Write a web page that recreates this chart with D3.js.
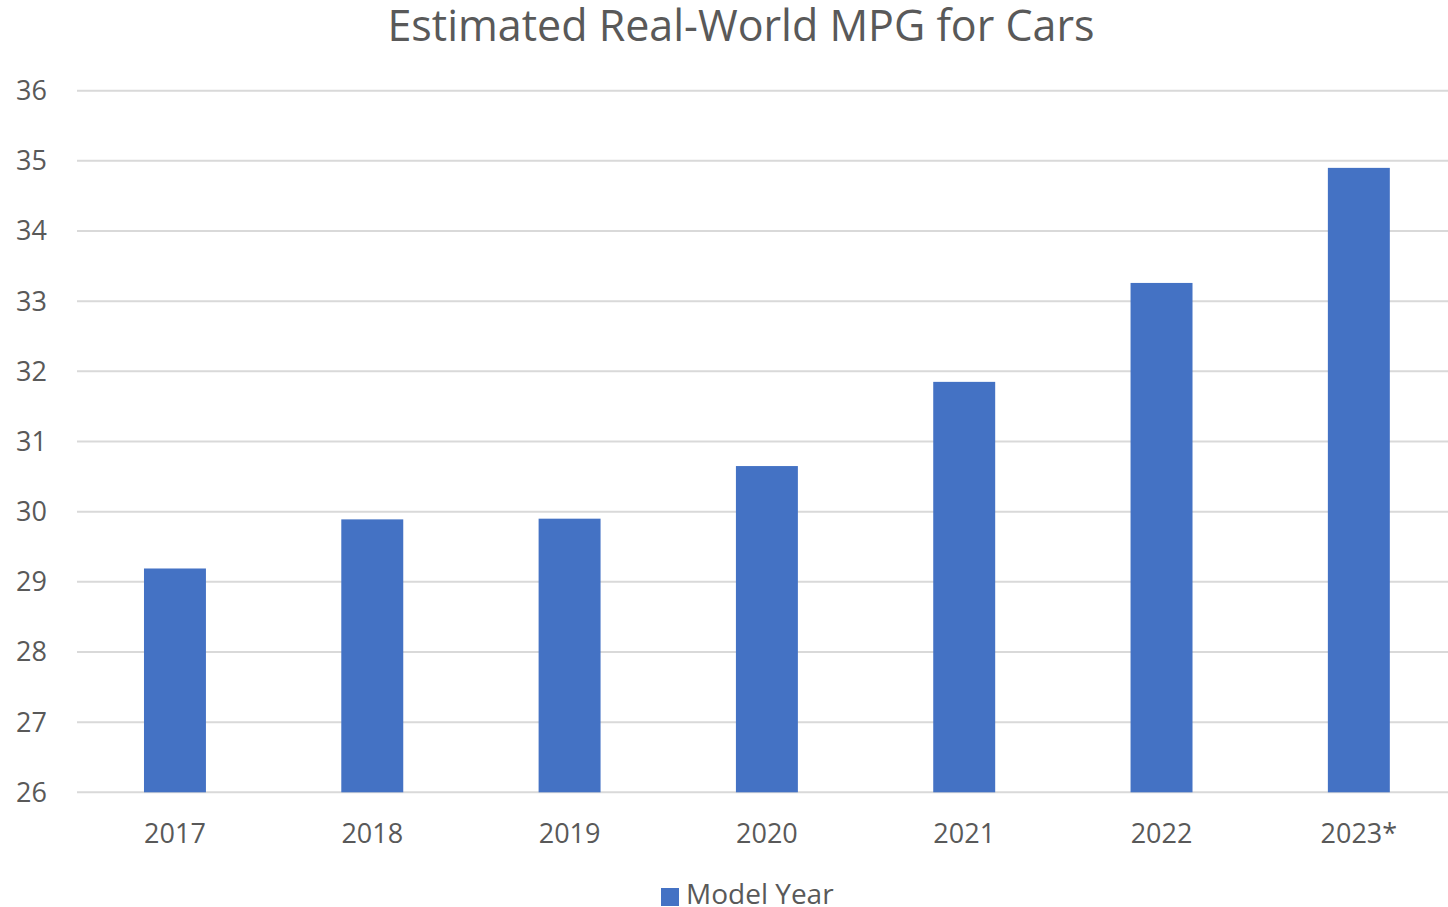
<head>
    <script src="https://d3js.org/d3.v7.min.js"></script>
</head>
<body style="margin:0">
<script>
    let years = ["2017", "2018", "2019", "2020", "2021", "2022", "2023*"];
    let mpg = [29.19, 29.89, 29.9, 30.65, 31.85, 33.26, 34.9];
    let yTicks = [26, 27, 28, 29, 30, 31, 32, 33, 34, 35, 36];

    let width = 1448;
    let height = 907;
    let font = "'Open Sans', 'Noto Sans', sans-serif";
    let textColor = "#595959";

    let svg = d3.select("body").append("svg")
        .attr("width", width)
        .attr("height", height)
        .style("font-family", font);

    let x = d3.scaleBand()
        .domain(years)
        .range([76.3, 1457.5])
        .paddingInner(0.686)
        .paddingOuter(0.343);

    let y = d3.scaleLinear()
        .domain([26, 36])
        .range([792.3, 90.7]);

    // gridlines
    svg.selectAll(".grid")
        .data(yTicks)
        .join("line")
        .attr("class", "grid")
        .attr("x1", 77)
        .attr("x2", width)
        .attr("y1", d => y(d))
        .attr("y2", d => y(d))
        .attr("stroke", "#d9d9d9")
        .attr("stroke-width", 2);

    // y tick labels
    svg.selectAll(".ylabel")
        .data(yTicks)
        .join("text")
        .attr("class", "ylabel")
        .attr("x", 47)
        .attr("y", d => y(d))
        .attr("dy", "0.35em")
        .attr("text-anchor", "end")
        .attr("fill", textColor)
        .style("font-size", "27px")
        .text(d => d);

    // bars
    svg.selectAll(".bar")
        .data(mpg)
        .join("rect")
        .attr("class", "bar")
        .attr("x", (d, i) => x(years[i]))
        .attr("width", x.bandwidth())
        .attr("y", d => y(d))
        .attr("height", d => y(26) - y(d))
        .attr("fill", "#4472c4");

    // x labels
    svg.selectAll(".xlabel")
        .data(years)
        .join("text")
        .attr("class", "xlabel")
        .attr("x", d => x(d) + x.bandwidth() / 2)
        .attr("y", 834)
        .attr("dy", "0.35em")
        .attr("text-anchor", "middle")
        .attr("fill", textColor)
        .style("font-size", "27px")
        .text(d => d);

    // title
    svg.append("text")
        .attr("x", 741)
        .attr("y", 41)
        .attr("text-anchor", "middle")
        .attr("fill", textColor)
        .style("font-size", "43px")
        .text("Estimated Real-World MPG for Cars");

    // legend
    svg.append("rect")
        .attr("x", 661)
        .attr("y", 888)
        .attr("width", 18)
        .attr("height", 18)
        .attr("fill", "#4472c4");

    svg.append("text")
        .attr("x", 686)
        .attr("y", 904)
        .attr("fill", textColor)
        .style("font-size", "28px")
        .text("Model Year");
</script>
</body>
